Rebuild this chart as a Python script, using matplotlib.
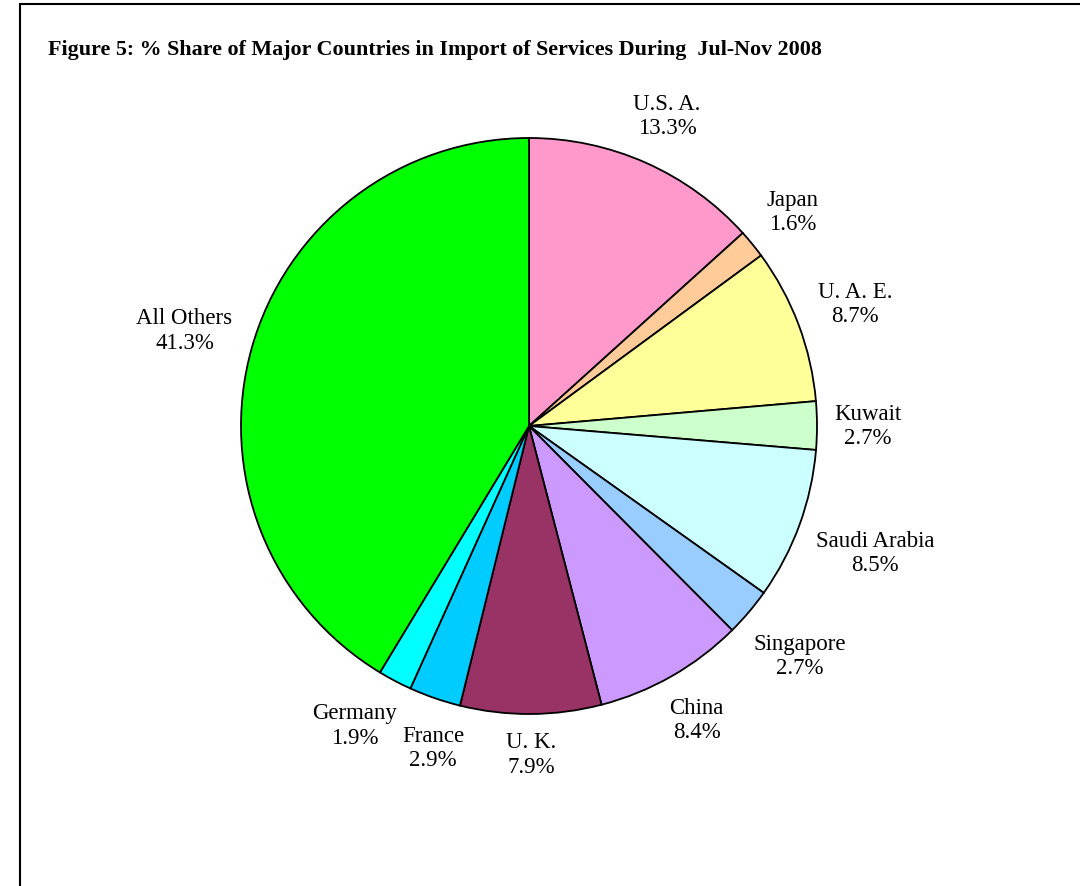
import matplotlib.pyplot as plt
import matplotlib.patches as mpatches
import numpy as np

countries = ["U.S. A.", "Japan", "U. A. E.", "Kuwait", "Saudi Arabia", "Singapore",
             "China", "U. K.", "France", "Germany", "All Others"]
shares = [13.3, 1.6, 8.7, 2.7, 8.5, 2.7, 8.4, 7.9, 2.9, 1.9, 41.3]
colors = ["#FF99CC", "#FFCC99", "#FFFF99", "#CCFFCC", "#CCFFFF", "#99CCFF",
          "#CC99FF", "#993366", "#00CCFF", "#00FFFF", "#00FF00"]

W, H = 1080, 887
fig = plt.figure(figsize=(W / 100, H / 100), dpi=100)
plt.rcParams['font.family'] = ['Liberation Serif', 'DejaVu Serif']

# outer frame (right and bottom edges run off the picture)
fig.patches.append(mpatches.Rectangle((20 / W, -0.05), 1.2, 1 - 5 / H + 0.05,
                                      transform=fig.transFigure, fill=False,
                                      edgecolor='black', linewidth=1.5))

fig.text(48 / W, 1 - 50 / H, "Figure 5: % Share of Major Countries in Import of Services During  Jul-Nov 2008",
         fontsize=15.8, fontweight='bold', ha='left', va='center')

cx, cy, R = 529, 427, 288
ax = fig.add_axes([(cx - R) / W, (H - cy - R) / H, 2 * R / W, 2 * R / H])
wedges, _ = ax.pie(shares, colors=colors, startangle=90, counterclock=False,
                   wedgeprops=dict(edgecolor='black', linewidth=1.3))
ax.set_xlim(-1, 1)
ax.set_ylim(-1, 1)
ax.set_aspect('equal')
ax.axis('off')

fig.canvas.draw()
renderer = fig.canvas.get_renderer()
texts, angles, sizes = [], [], []
for w, name, val in zip(wedges, countries, shares):
    t = ax.text(0, 0, f"{name}\n{val}%", ha='center', va='center',
                fontsize=16.5, linespacing=1.2)
    bb = t.get_window_extent(renderer)
    texts.append(t)
    angles.append((w.theta1 + w.theta2) / 2)
    sizes.append((bb.width / 2 / R, bb.height / 2 / R))


def place(i):
    a = np.deg2rad(angles[i])
    u = np.array([np.cos(a), np.sin(a)])
    hw, hh = sizes[i]
    d = 1.06 + hw * abs(u[0]) + hh * abs(u[1])
    return d * u


def overlap(i, j):
    p, q = place(i), place(j)
    return (abs(p[0] - q[0]) < sizes[i][0] + sizes[j][0] + 0.01 and
            abs(p[1] - q[1]) < sizes[i][1] + sizes[j][1] + 0.01)


# spread neighbouring labels apart around the circle until they clear
for _ in range(200):
    moved = False
    for i in range(len(texts) - 1):
        if overlap(i, i + 1):
            angles[i] += 0.5
            angles[i + 1] -= 0.5
            moved = True
    if not moved:
        break

for i, t in enumerate(texts):
    t.set_position(place(i))

fig.savefig("out.png", dpi=100)
